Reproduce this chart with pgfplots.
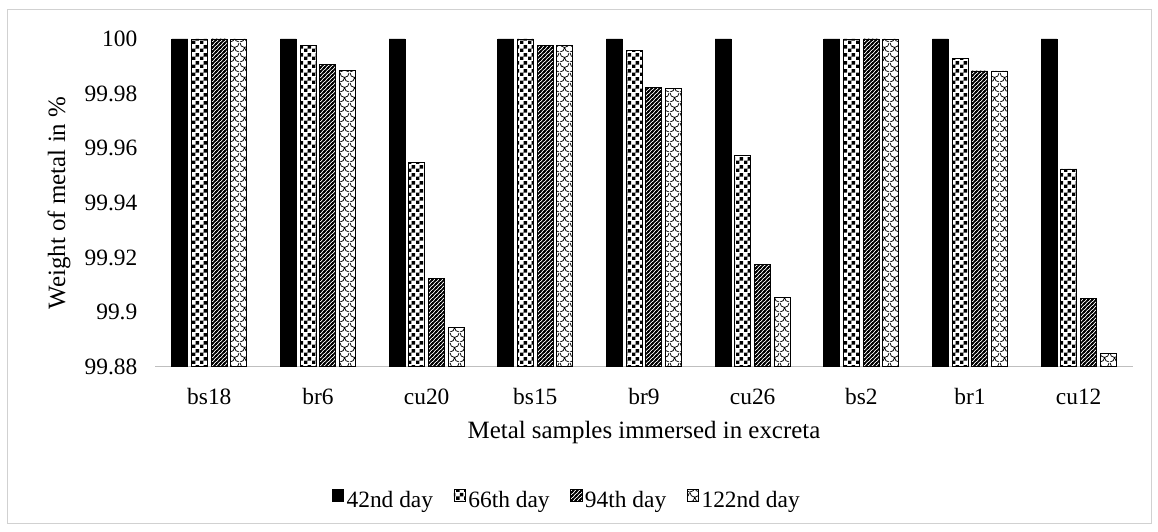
\documentclass[border=0pt]{standalone}
\usepackage{pgfplots}
\pgfplotsset{compat=1.18}
\usepackage{fontspec}
\setmainfont{Liberation Serif}
\usetikzlibrary{patterns}

\pgfdeclarepatternformonly{confetti}{\pgfpoint{0bp}{0bp}}{\pgfpoint{8bp}{8bp}}{\pgfpoint{8bp}{8bp}}{%
  \pgfpathrectangle{\pgfpoint{0.1bp}{0.1bp}}{\pgfpoint{3.8bp}{3.8bp}}%
  \pgfpathrectangle{\pgfpoint{4.1bp}{3.9bp}}{\pgfpoint{3.8bp}{3.8bp}}%
  \pgfusepath{fill}}
\pgfdeclarepatternformonly{denseNE}{\pgfpoint{-1bp}{-1bp}}{\pgfpoint{5bp}{5bp}}{\pgfpoint{4bp}{4bp}}{%
  \pgfsetlinewidth{1.5bp}%
  \pgfpathmoveto{\pgfpoint{-1bp}{-1bp}}\pgfpathlineto{\pgfpoint{5bp}{5bp}}%
  \pgfpathmoveto{\pgfpoint{-1bp}{3bp}}\pgfpathlineto{\pgfpoint{1bp}{5bp}}%
  \pgfpathmoveto{\pgfpoint{3bp}{-1bp}}\pgfpathlineto{\pgfpoint{5bp}{1bp}}%
  \pgfusepath{stroke}}
\pgfdeclarepatternformonly{scales}{\pgfpoint{0bp}{0bp}}{\pgfpoint{10bp}{10bp}}{\pgfpoint{10bp}{10bp}}{%
  \pgfsetlinewidth{0.8bp}%
  \pgfpathmoveto{\pgfpoint{0bp}{10bp}}\pgfpatharc{180}{360}{5bp}%
  \pgfpathmoveto{\pgfpoint{0bp}{0bp}}\pgfpatharc{270}{360}{5bp}%
  \pgfpathmoveto{\pgfpoint{5bp}{5bp}}\pgfpatharc{180}{270}{5bp}%
  \pgfusepath{stroke}}

\pgfplotstableread{
x d42 d66 d94 d122
0 100 100 100 100
1 100 99.99755 99.9908 99.9884
2 100 99.9549 99.9124 99.8944
3 100 100 99.9978 99.9978
4 100 99.9957 99.9822 99.9819
5 100 99.9575 99.9176 99.9053
6 100 100 100 100
7 100 99.9929 99.9883 99.9883
8 100 99.9524 99.9050 99.8847
}\datatable

\begin{document}
\begin{tikzpicture}[font=\fontsize{23.5}{28}\selectfont]
\useasboundingbox (0,0) rectangle (1158bp,532bp);
\draw[black!18, line width=1bp] (7.5bp,8.5bp) rectangle (1151bp,522bp);
\begin{axis}[
  at={(155bp,165.3bp)}, anchor=south west,
  scale only axis, width=978bp, height=327.7bp,
  ybar=3.7bp, bar width=16bp,
  xmin=-0.5, xmax=8.5,
  ymin=99.88, ymax=100,
  xtick={0,...,8},
  xticklabels={bs18,br6,cu20,bs15,br9,cu26,bs2,br1,cu12},
  ytick={99.88,99.9,99.92,99.94,99.96,99.98,100},
  yticklabels={99.88,99.9,99.92,99.94,99.96,99.98,100},
  axis x line=bottom, axis y line=left,
  x axis line style={black!25, line width=1bp, -},
  y axis line style={draw=none},
  major tick length=0pt,
  xticklabel style={anchor=base, yshift=-38.3bp},
  yticklabel style={anchor=east, xshift=-14.2bp},
  xlabel={Metal samples immersed in excreta},
  ylabel={Weight of metal in \%},
  label style={font=\fontsize{25}{30}\selectfont},
  xlabel style={at={(axis description cs:0.5,-0.2206)}, anchor=base},
  ylabel style={at={(axis description cs:-0.092,0.5)}, anchor=base},
  legend columns=4,
  legend style={at={(axis description cs:0.4213,-0.408)}, anchor=center, draw=none, fill=none,
    nodes={inner sep=2.5bp, text depth=0.15em},
    /tikz/every even column/.append style={column sep=18bp}},
  legend image code/.code={\draw[#1] (0bp,-0.5bp) rectangle (11.5bp,11bp);},
  clip=true,
]
\addplot[fill=black, draw=black, line width=0.8bp] table[x=x,y=d42] {\datatable};
\addlegendentry{42nd day}
\addplot[pattern=confetti, draw=black, line width=0.8bp] table[x=x,y=d66] {\datatable};
\addlegendentry{66th day}
\addplot[pattern=denseNE, draw=black, line width=0.8bp] table[x=x,y=d94] {\datatable};
\addlegendentry{94th day}
\addplot[pattern=scales, draw=black, line width=0.8bp] table[x=x,y=d122] {\datatable};
\addlegendentry{122nd day}
\end{axis}
\end{tikzpicture}
\end{document}
